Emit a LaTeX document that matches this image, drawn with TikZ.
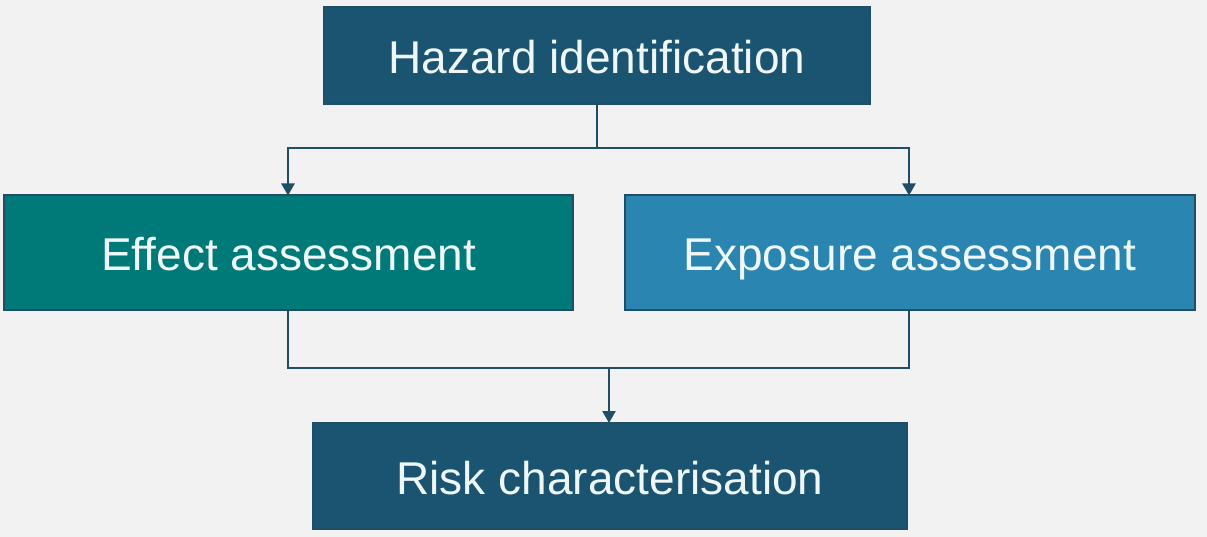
\documentclass[tikz,border=0pt]{standalone}
\usepackage{fontspec}
\setmainfont{Liberation Sans}
\usetikzlibrary{arrows.meta}
\definecolor{bg}{HTML}{F2F2F2}
\definecolor{darkblue}{HTML}{1B5470}
\definecolor{tealc}{HTML}{007A78}
\definecolor{bluec}{HTML}{2A86B0}
\definecolor{linec}{HTML}{1F4E66}
\definecolor{txt}{HTML}{EEF6F6}
\tikzset{
  box/.style={draw=linec, line width=1.5pt, inner sep=0pt, text=txt,
    font=\fontsize{46}{50}\selectfont, text height=37pt, text depth=0pt},
  conn/.style={draw=linec, line width=2.5pt},
  arr/.style={conn, -{Triangle[length=12pt,width=13pt]}}
}
\begin{document}
\begin{tikzpicture}[x=1pt,y=-1pt]
\fill[bg] (0,0) rectangle (1207,537);
\useasboundingbox (0,0) rectangle (1207,537);
\node[box, fill=darkblue, minimum width=546pt, minimum height=97pt] (haz) at (597,55.5) {Hazard identification};
\node[box, fill=tealc, minimum width=569pt, minimum height=115pt] (eff) at (288.5,252.5) {Effect assessment};
\node[box, fill=bluec, minimum width=570pt, minimum height=115pt] (exp) at (910,252.5) {Exposure assessment};
\node[box, fill=darkblue, minimum width=594pt, minimum height=106pt] (risk) at (610,476) {Risk characterisation};
\coordinate (s1) at (597,148);
\coordinate (s2) at (609,368);
\draw[conn] (haz.south) -- (s1);
\draw[arr] (s1) -| (288,195.5);
\draw[arr] (s1) -| (909,195.5);
\draw[conn] (288,310) |- (s2);
\draw[conn] (909,310) |- (s2);
\draw[arr] (s2) -- (609,423);
\end{tikzpicture}
\end{document}
